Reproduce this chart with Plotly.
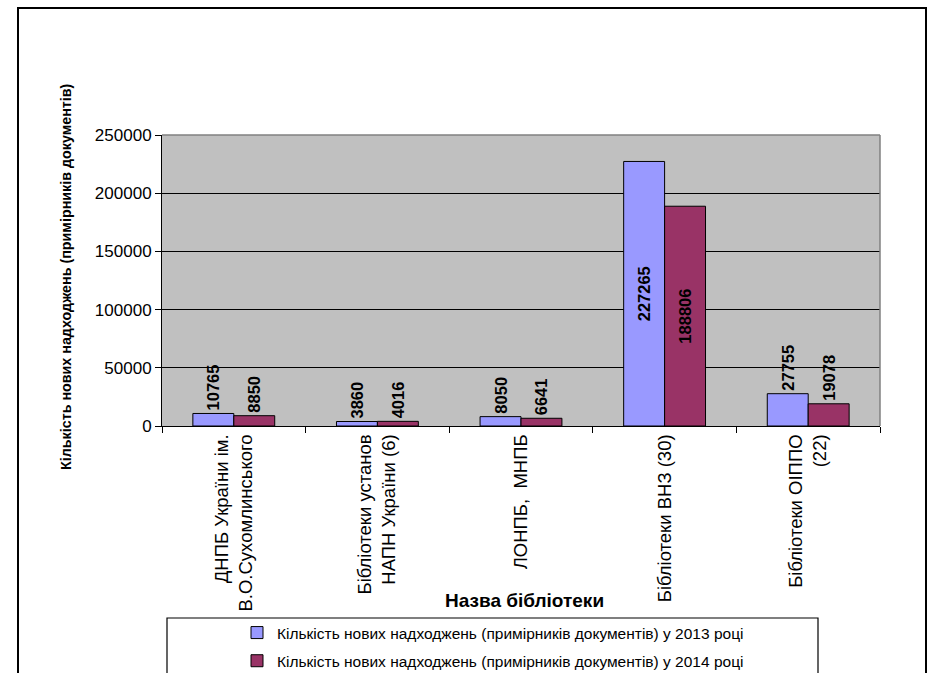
import plotly.graph_objects as go

categories = [
    "ДНПБ України ім.<br>В.О.Сухомлинського",
    "Бібліотеки установ<br>НАПН України (6)",
    "ЛОНПБ,  МНПБ",
    "Бібліотеки ВНЗ (30)",
    "Бібліотеки ОІППО<br>(22)",
]
values_2013 = [10765, 3860, 8050, 227265, 27755]
values_2014 = [8850, 4016, 6641, 188806, 19078]
series_names = [
    "Кількість нових надходжень (примірників документів) у 2013 році",
    "Кількість нових надходжень (примірників документів) у 2014 році",
]
y_ticks = [0, 50000, 100000, 150000, 200000, 250000]

W, H = 928, 673
L, R, T, B = 162, 880, 135, 426

def px_x(x):
    return (x - L) / (R - L)

def px_y(y):
    return (B - y) / (B - T)

FONT = "Liberation Sans, Arial, sans-serif"

def text_pos(vals):
    return ["inside" if v > 100000 else "outside" for v in vals]

fig = go.Figure()
for name, vals, color, grp in [
    (series_names[0], values_2013, "#9999FF", "a"),
    (series_names[1], values_2014, "#993366", "b"),
]:
    fig.add_trace(go.Bar(
        x=categories, y=vals, name=name,
        marker=dict(color=color, line=dict(color="black", width=1)),
        text=[str(v) for v in vals],
        textposition=text_pos(vals),
        insidetextanchor="middle",
        textangle=-90,
        constraintext="none",
        textfont=dict(family=FONT, size=16.5, color="black", weight="bold"),
        cliponaxis=False,
        legendgroup=grp,
    ))

fig.update_layout(
    width=W, height=H,
    margin=dict(l=L, r=W - R, t=T, b=H - B, autoexpand=False),
    paper_bgcolor="white",
    plot_bgcolor="#C0C0C0",
    barmode="group",
    bargap=0.43,
    bargroupgap=0,
    font=dict(family=FONT, color="black"),
    showlegend=True,
    legend=dict(
        x=px_x(493), xanchor="center", y=px_y(616), yanchor="top",
        font=dict(family=FONT, size=15.5, color="black"),
        bgcolor="rgba(0,0,0,0)", borderwidth=0,
        traceorder="grouped", tracegroupgap=5,
        itemwidth=30,
    ),
    xaxis=dict(
        type="category",
        tickangle=-90,
        tickfont=dict(family=FONT, size=18.5, color="black"),
        ticks="outside", ticklen=6, tickcolor="black",
        tickson="boundaries",
        showline=True, linecolor="black", linewidth=1,
        showgrid=False,
        automargin=False,
    ),
    yaxis=dict(
        range=[0, 250000],
        tickvals=y_ticks,
        ticktext=[str(v) for v in y_ticks],
        tickfont=dict(family=FONT, size=17, color="black"),
        ticks="outside", ticklen=6, tickcolor="black",
        showline=True, linecolor="black", linewidth=1,
        showgrid=True, gridcolor="black", gridwidth=1,
        zeroline=False,
        automargin=False,
    ),
    annotations=[
        dict(
            text="<b>Кількість нових надходжень (примірників документів)</b>",
            xref="paper", yref="paper",
            x=px_x(66), y=px_y(277),
            xanchor="center", yanchor="middle",
            textangle=-90, showarrow=False,
            font=dict(family=FONT, size=14.3, color="black"),
        ),
        dict(
            text="<b>Назва бібліотеки</b>",
            xref="paper", yref="paper",
            x=px_x(524), y=px_y(600),
            xanchor="center", yanchor="middle",
            showarrow=False,
            font=dict(family=FONT, size=19, color="black"),
        ),
    ],
    shapes=[
        dict(type="line", xref="paper", yref="paper", x0=0, x1=1, y0=1, y1=1,
             line=dict(color="#808080", width=1.5), layer="above"),
        dict(type="line", xref="paper", yref="paper", x0=1, x1=1, y0=0, y1=1,
             line=dict(color="#808080", width=1.5), layer="above"),
        dict(type="rect", xref="paper", yref="paper",
             x0=px_x(167), x1=px_x(818), y0=px_y(700), y1=px_y(618),
             line=dict(color="black", width=1.2), fillcolor="rgba(0,0,0,0)"),
        dict(type="rect", xref="paper", yref="paper",
             x0=px_x(18), x1=px_x(926), y0=px_y(720), y1=px_y(8),
             line=dict(color="black", width=2), fillcolor="rgba(0,0,0,0)"),
    ],
)

fig.write_html(
    "out.html",
    config={"displayModeBar": False},
    post_script="document.body.style.margin='0';document.body.style.overflow='hidden';",
)
